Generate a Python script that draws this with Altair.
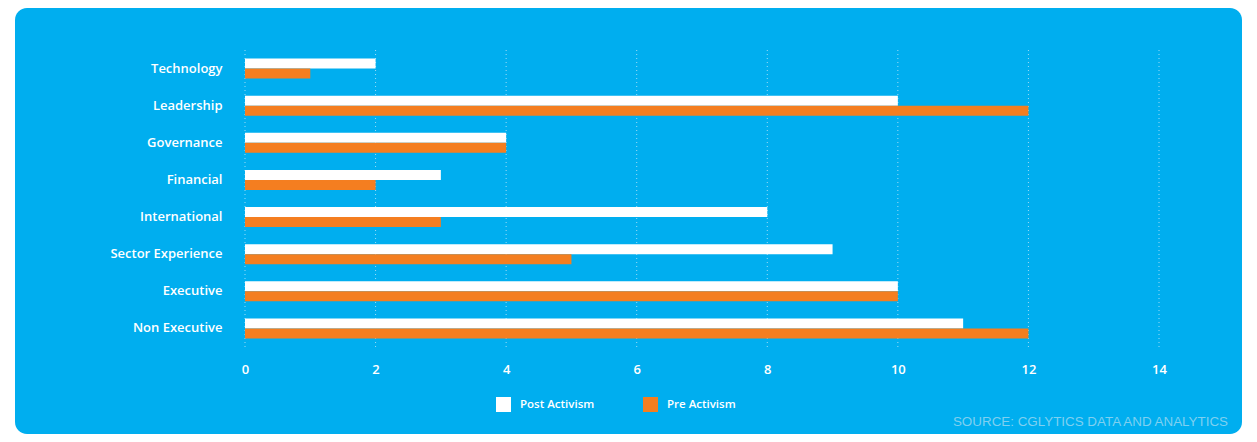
import altair as alt
import pandas as pd

categories = ["Technology", "Leadership", "Governance", "Financial",
              "International", "Sector Experience", "Executive", "Non Executive"]
post_activism = [2, 10, 4, 3, 8, 9, 10, 11]
pre_activism = [1, 12, 4, 2, 3, 5, 10, 12]
series_names = ["Post Activism", "Pre Activism"]
x_ticks = [0, 2, 4, 6, 8, 10, 12, 14]
source_text = "SOURCE: CGLYTICS DATA AND ANALYTICS"

rows = []
for c, a, b in zip(categories, post_activism, pre_activism):
    rows.append({"category": c, "series": series_names[0], "value": a})
    rows.append({"category": c, "series": series_names[1], "value": b})
df = pd.DataFrame(rows)

BLUE = "#00AEEF"
ORANGE = "#F47E20"
FONT = "Open Sans"

x_scale = alt.Scale(domain=[0, 14], nice=False, zero=True)
x_axis = alt.Axis(values=x_ticks, title=None, grid=False, domain=False, ticks=False,
                  labelColor="white", labelFontSize=13, labelFont=FONT, labelFlush=False,
                  labelFontWeight=600, labelPadding=16, zindex=1)
y_axis = alt.Axis(title=None, domain=False, ticks=False, grid=False,
                  labelColor="white", labelFontSize=13, labelFont=FONT,
                  labelFontWeight=600, labelPadding=23, zindex=1)

bg = alt.Chart(alt.Data(values=[{}])).mark_rect(color=BLUE, cornerRadius=12).encode(
    x=alt.value(-230), x2=alt.value(997), y=alt.value(-42), y2=alt.value(384)
)

grid = alt.Chart(pd.DataFrame({"tick": x_ticks})).mark_rule(
    color="#9ddcf7", strokeDash=[1, 3], strokeWidth=1
).encode(x=alt.X("tick:Q", scale=x_scale, axis=x_axis))

bars = alt.Chart(df).mark_bar().encode(
    x=alt.X("value:Q", scale=x_scale, axis=x_axis),
    y=alt.Y("category:N", sort=categories,
            scale=alt.Scale(paddingInner=0.46, paddingOuter=0.23), axis=y_axis),
    yOffset=alt.YOffset("series:N", sort=series_names),
    color=alt.Color("series:N",
                    scale=alt.Scale(domain=series_names, range=["#FFFFFF", ORANGE]),
                    legend=alt.Legend(title=None, orient="none", legendX=251, legendY=347,
                                      direction="horizontal", symbolType="square",
                                      symbolSize=225, symbolStrokeWidth=0, symbolOpacity=1,
                                      labelColor="white", labelFontSize=11.5, labelFont=FONT,
                                      labelFontWeight=600, labelOffset=9,
                                      columnPadding=48, padding=0)),
)

chart = alt.layer(bg, grid, bars).properties(
    width=914, height=297,
    autosize=alt.AutoSizeParams(type="none"),
    padding={"left": 237, "top": 42, "right": 90, "bottom": 87},
    title=alt.TitleParams(source_text, orient="bottom", anchor="end", color="#7fd0f0",
                          fontSize=13.4, fontWeight="normal", font="Liberation Sans",
                          dx=-14, offset=-19),
).configure(background="white").configure_view(stroke=None)

chart.save("out.html", embed_options={"renderer": "svg", "actions": False})
